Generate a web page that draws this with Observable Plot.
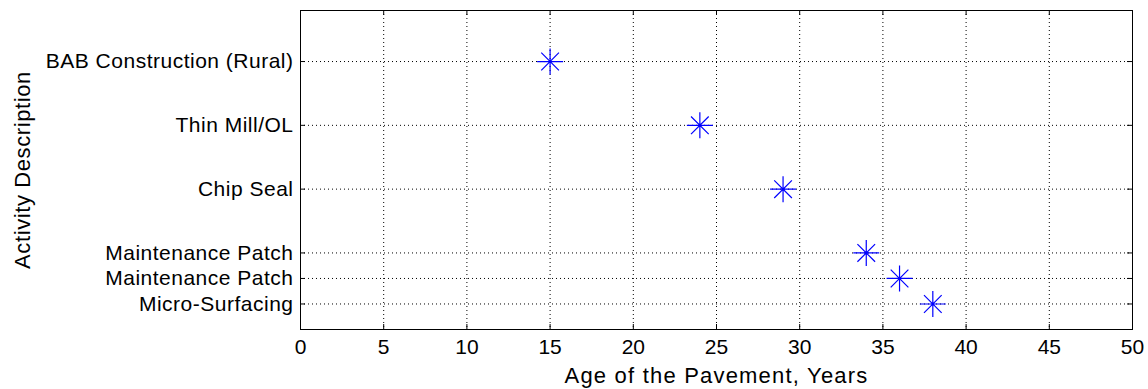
<!DOCTYPE html>
<html>
<head>
<meta charset="utf-8">
<script src="https://cdn.jsdelivr.net/npm/d3@7"></script>
<script src="https://cdn.jsdelivr.net/npm/@observablehq/plot@0.6"></script>
<style>
  html, body { margin: 0; padding: 0; background: #ffffff; }
  #chart svg { display: block; }
  .ytick text { letter-spacing: 0.5px; }
</style>
</head>
<body>
<div id="chart"></div>
<script>
// Data
const activities = ["BAB Construction (Rural)", "Thin Mill/OL", "Chip Seal", "Maintenance Patch", "Maintenance Patch", "Micro-Surfacing"];
const ages = [15, 24, 29, 34, 36, 38];
const yPositions = [21, 16, 11, 6, 4, 2];
const xTicks = [0, 5, 10, 15, 20, 25, 30, 35, 40, 45, 50];
const xGrid = [5, 10, 15, 20, 25, 30, 35, 40, 45];
const yTicks = [2, 4, 6, 11, 16, 21];
const yTickLabels = ["Micro-Surfacing", "Maintenance Patch", "Maintenance Patch", "Chip Seal", "Thin Mill/OL", "BAB Construction (Rural)"];
const xLabel = "Age of the Pavement, Years";
const yLabel = "Activity Description";

const points = activities.map((a, i) => ({activity: a, age: ages[i], y: yPositions[i]}));
const labelFor = new Map(yTicks.map((t, i) => [t, yTickLabels[i]]));

// MATLAB-style '*' marker (8-armed asterisk)
const asterisk = {
  draw(context, size) {
    const r = Math.sqrt(size / Math.PI);
    const d = r * 0.68;
    context.moveTo(-r, 0); context.lineTo(r, 0);
    context.moveTo(0, -r); context.lineTo(0, r);
    context.moveTo(-d, -d); context.lineTo(d, d);
    context.moveTo(-d, d); context.lineTo(d, -d);
  }
};

const W = 1148, H = 389;
const mL = 300, mR = 16, mT = 10, mB = 60;
const innerW = W - mL - mR, innerH = H - mT - mB;
const tickLen = 5;

const chart = Plot.plot({
  width: W,
  height: H,
  marginLeft: mL,
  marginRight: mR,
  marginTop: mT,
  marginBottom: mB,
  style: {fontFamily: "'Liberation Sans', Arial, sans-serif", fontSize: "21px", color: "#000", background: "#fff"},
  x: {domain: [0, 50]},
  y: {domain: [0, 25]},
  marks: [
    Plot.gridX(xGrid, {stroke: "#000", strokeOpacity: 1, strokeDasharray: "1,3"}),
    Plot.gridY(yTicks, {stroke: "#000", strokeOpacity: 1, strokeDasharray: "1,3"}),
    // inward ticks (bottom, top, left, right)
    Plot.tickX(xTicks, {x: d => d, insetTop: innerH - tickLen, stroke: "#000"}),
    Plot.tickX(xTicks, {x: d => d, insetBottom: innerH - tickLen, stroke: "#000"}),
    Plot.tickY(yTicks, {y: d => d, insetRight: innerW - tickLen, stroke: "#000"}),
    Plot.tickY(yTicks, {y: d => d, insetLeft: innerW - tickLen, stroke: "#000"}),
    Plot.axisX({ticks: xTicks, tickSize: 0, tickPadding: 10, fontSize: 21, label: null}),
    Plot.axisX({ticks: [], tickSize: 0, fontSize: 22,
      label: xLabel, labelAnchor: "center", labelArrow: "none", labelOffset: 53}),
    Plot.axisY({ticks: yTicks, tickSize: 0, tickPadding: 7, fontSize: 21, className: "ytick",
      tickFormat: d => labelFor.get(d), label: null}),
    Plot.axisY({ticks: [], tickSize: 0, fontSize: 22,
      label: yLabel, labelAnchor: "center", labelArrow: "none", labelOffset: 286}),
    Plot.frame({stroke: "#000", strokeWidth: 1}),
    Plot.dot(points, {x: "age", y: "y", symbol: asterisk, r: 13, stroke: "#0000ff", strokeWidth: 1.2, fill: "none"})
  ]
});
d3.select(chart).selectAll("text").each(function() {
  const t = this.textContent;
  if (t === xLabel) this.setAttribute("letter-spacing", "1.2px");
  else if (t === yLabel) this.setAttribute("letter-spacing", "0.6px");
});
document.getElementById("chart").appendChild(chart);
</script>
</body>
</html>
